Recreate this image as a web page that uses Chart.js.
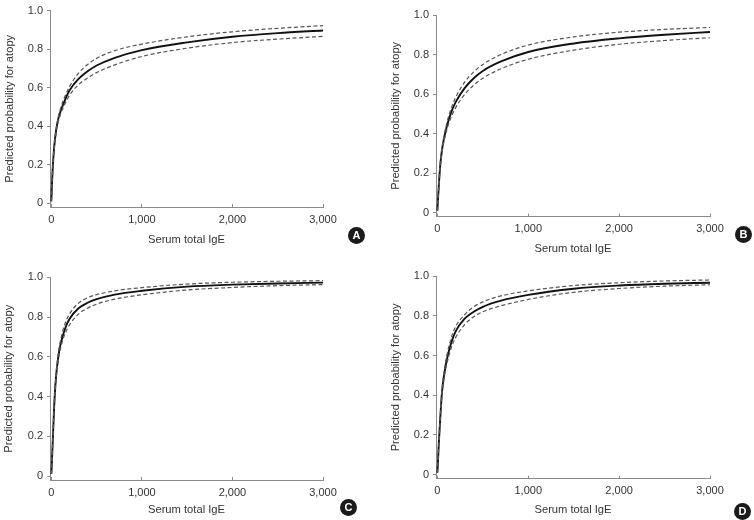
<!DOCTYPE html>
<html>
<head>
<meta charset="utf-8">
<script src="https://cdn.jsdelivr.net/npm/chart.js@4/dist/chart.umd.min.js"></script>
<style>
  html, body { margin: 0; padding: 0; background: #fff; }
  body { width: 754px; height: 520px; position: relative; overflow: hidden; }
  canvas { position: absolute; }
  .tag { position: absolute; width: 17px; height: 17px; border-radius: 50%; background: #1b1b1b; color: #fff;
         font: bold 11px "Liberation Sans", Arial, sans-serif; line-height: 17px; text-align: center; }
</style>
</head>
<body>
<canvas id="cA" width="377" height="260" style="left:0;top:0"></canvas>
<canvas id="cB" width="377" height="260" style="left:377px;top:0"></canvas>
<canvas id="cC" width="377" height="260" style="left:0;top:260px"></canvas>
<canvas id="cD" width="377" height="260" style="left:377px;top:260px"></canvas>
<div class="tag" style="left:348px;top:227px">A</div>
<div class="tag" style="left:735px;top:226px">B</div>
<div class="tag" style="left:340px;top:499px">C</div>
<div class="tag" style="left:734px;top:503px">D</div>
<script>
// ---- data ----
const igE = [0, 5, 15, 30, 50, 75, 100, 150, 200, 300, 400, 500, 700, 1000, 1500, 2000, 2500, 3000];
const xTicks = [0, 1000, 2000, 3000];
const yTicks = [0, 0.2, 0.4, 0.6, 0.8, 1.0];

const solidA = [0.01, 0.08, 0.18, 0.285, 0.37, 0.435, 0.475, 0.535, 0.585, 0.645, 0.685, 0.715, 0.755, 0.795, 0.835, 0.864, 0.883, 0.897];
const upperA = [0.01, 0.08, 0.18, 0.29, 0.375, 0.445, 0.49, 0.555, 0.605, 0.675, 0.72, 0.752, 0.792, 0.826, 0.864, 0.89, 0.908, 0.922];
const lowerA = [0.01, 0.07, 0.17, 0.275, 0.36, 0.42, 0.46, 0.515, 0.56, 0.615, 0.65, 0.678, 0.718, 0.762, 0.805, 0.834, 0.852, 0.866];

const solidB = [0.01, 0.05, 0.13, 0.23, 0.315, 0.38, 0.43, 0.505, 0.558, 0.63, 0.68, 0.717, 0.765, 0.813, 0.856, 0.882, 0.9, 0.914];
const upperB = [0.01, 0.055, 0.14, 0.24, 0.325, 0.39, 0.445, 0.525, 0.582, 0.66, 0.712, 0.75, 0.8, 0.848, 0.889, 0.913, 0.927, 0.937];
const lowerB = [0.01, 0.045, 0.12, 0.22, 0.30, 0.365, 0.412, 0.482, 0.53, 0.598, 0.645, 0.68, 0.728, 0.776, 0.822, 0.852, 0.871, 0.885];

const solidC = [0.01, 0.06, 0.17, 0.34, 0.49, 0.595, 0.66, 0.74, 0.79, 0.844, 0.872, 0.89, 0.913, 0.932, 0.953, 0.963, 0.969, 0.973];
const upperC = [0.01, 0.065, 0.18, 0.35, 0.5, 0.61, 0.68, 0.765, 0.815, 0.87, 0.897, 0.913, 0.932, 0.948, 0.966, 0.975, 0.98, 0.983];
const lowerC = [0.01, 0.055, 0.16, 0.33, 0.475, 0.58, 0.64, 0.715, 0.76, 0.815, 0.845, 0.865, 0.89, 0.912, 0.936, 0.949, 0.958, 0.963];

const solidD = [0.01, 0.05, 0.15, 0.27, 0.41, 0.505, 0.57, 0.66, 0.72, 0.785, 0.82, 0.845, 0.876, 0.905, 0.936, 0.952, 0.961, 0.966];
const upperD = [0.01, 0.055, 0.16, 0.28, 0.42, 0.52, 0.59, 0.685, 0.745, 0.805, 0.845, 0.87, 0.9, 0.925, 0.952, 0.966, 0.975, 0.98];
const lowerD = [0.01, 0.045, 0.14, 0.26, 0.40, 0.49, 0.55, 0.635, 0.69, 0.755, 0.795, 0.82, 0.85, 0.882, 0.918, 0.937, 0.949, 0.956];

const xTitle = 'Serum total IgE';
const yTitle = 'Predicted probability for atopy';

// ---- rendering ----
function hasFont(name) {
  const c = document.createElement('canvas').getContext('2d');
  const s = 'Serum total IgE 1,000 0.8';
  c.font = '40px monospace';
  const a = c.measureText(s).width;
  c.font = '40px "' + name + '", monospace';
  return Math.abs(c.measureText(s).width - a) > 0.5;
}
let FONT, TICK_SIZE, TITLE_SIZE;
if (hasFont('Liberation Sans Narrow')) { FONT = '"Liberation Sans Narrow", sans-serif'; TICK_SIZE = 12.5; TITLE_SIZE = 13.5; }
else if (hasFont('Arial Narrow')) { FONT = '"Arial Narrow", sans-serif'; TICK_SIZE = 12.5; TITLE_SIZE = 13.5; }
else { FONT = '"Liberation Sans", Arial, Helvetica, sans-serif'; TICK_SIZE = 11; TITLE_SIZE = 11.2; }

const AXIS = '#8a8a8a';
const TEXT = '#333333';

function pts(ys) { return igE.map((x, i) => ({ x: x, y: ys[i] })); }

function panel(id, solid, upper, lower, g) {
  const dashed = { borderColor: '#555555', borderWidth: 1.2, borderDash: [4, 2.5], pointRadius: 0, fill: false, cubicInterpolationMode: 'monotone' };
  const halfTitle = TITLE_SIZE * 0.6;
  new Chart(document.getElementById(id), {
    type: 'line',
    data: {
      datasets: [
        Object.assign({ data: pts(upper) }, dashed),
        Object.assign({ data: pts(lower) }, dashed),
        { data: pts(solid), borderColor: '#111111', borderWidth: 1.9, pointRadius: 0, fill: false, cubicInterpolationMode: 'monotone' }
      ]
    },
    options: {
      responsive: false,
      animation: false,
      devicePixelRatio: 1,
      layout: { padding: { left: 0, top: g.top, right: g.right, bottom: 0 } },
      plugins: { legend: { display: false }, tooltip: { enabled: false } },
      scales: {
        x: {
          type: 'linear', min: -15, max: 3000,
          afterBuildTicks: s => { s.ticks = xTicks.map(v => ({ value: v })); },
          afterFit: s => { s.height = g.xh; },
          grid: { drawOnChartArea: false, drawTicks: true, tickLength: -3, color: AXIS, lineWidth: 1 },
          border: { display: true, color: AXIS, width: 1 },
          ticks: { color: TEXT, font: { family: FONT, size: TICK_SIZE }, padding: 12.7 + 3 - TICK_SIZE * 0.6, maxRotation: 0,
                   callback: v => v.toLocaleString('en-US') },
          title: { display: true, text: xTitle, color: TEXT, font: { family: FONT, size: TITLE_SIZE },
                   padding: { top: 0, bottom: g.xTitle - halfTitle } }
        },
        y: {
          type: 'linear', min: -0.02, max: 1.0,
          afterBuildTicks: s => { s.ticks = yTicks.map(v => ({ value: v })); },
          afterFit: s => { s.width = g.yw; },
          grid: { drawOnChartArea: false, drawTicks: true, tickLength: 3, color: AXIS, lineWidth: 1 },
          border: { display: true, color: AXIS, width: 1 },
          ticks: { color: TEXT, font: { family: FONT, size: TICK_SIZE }, padding: 4,
                   callback: v => (v === 0 ? '0' : v.toFixed(1)) },
          title: { display: true, text: yTitle, color: TEXT, font: { family: FONT, size: TITLE_SIZE },
                   padding: { top: Math.max(0, g.yTitle - halfTitle), bottom: 0 } }
        }
      }
    }
  });
}

panel('cA', solidA, upperA, lowerA, { top: 6,    right: 54, yw: 50, xh: 53,   xTitle: 20, yTitle: 9.5 });
panel('cB', solidB, upperB, lowerB, { top: 15,   right: 44, yw: 59, xh: 43.4, xTitle: 11, yTitle: 18.7 });
panel('cC', solidC, upperC, lowerC, { top: 17.3, right: 54, yw: 50, xh: 40,   xTitle: 10, yTitle: 9 });
panel('cD', solidD, upperD, lowerD, { top: 16,   right: 44, yw: 59, xh: 41.3, xTitle: 10, yTitle: 18.7 });
</script>
</body>
</html>
